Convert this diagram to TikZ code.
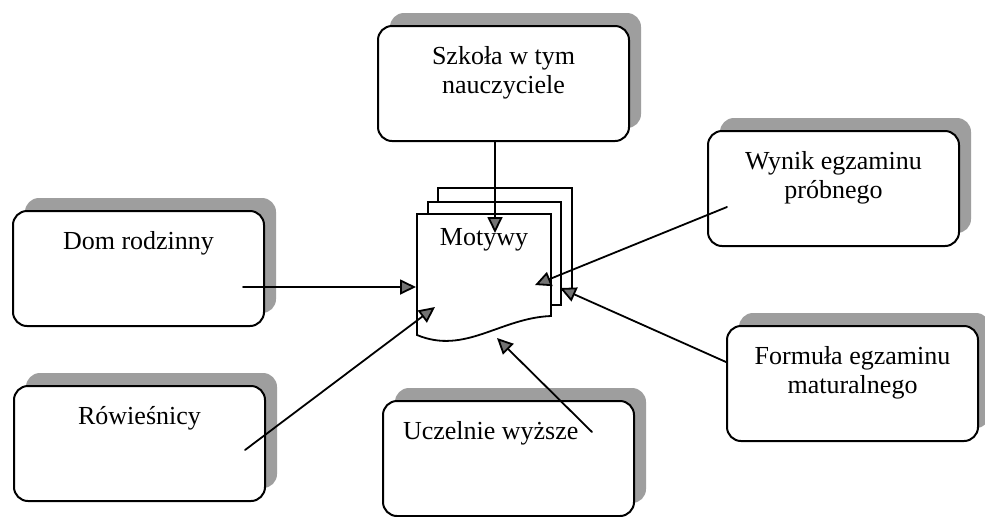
\documentclass[tikz,border=0pt]{standalone}
\usepackage{fontspec}
\setmainfont{Liberation Serif}
\usepackage{tikz}
\usetikzlibrary{arrows.meta, shadows}
\newcommand{\BoxText}[2][\centering]{\parbox[c][57.5pt][t]{125.5pt}{\vspace*{9.3pt}#1\strut #2}}

\begin{document}
\begin{tikzpicture}[x=0.5pt, y=-0.5pt, line cap=round,
	cause/.style={draw, line width=1pt, rounded corners=7pt, fill=white, inner sep=0pt, anchor=north west,
		font=\fontsize{13}{14.5}\selectfont,
		general shadow={fill=black!38, draw=none, shadow xshift=6pt, shadow yshift=6.5pt}},
	page/.style={draw, line width=0.9pt, fill=white},
	link/.style={line width=0.9pt, -{Triangle[length=8pt, width=7.5pt, fill=black!55]}}]

	\fill[white] (0,0) rectangle (985,516);
	\useasboundingbox (0,0) rectangle (985,516);

	% boxes round the motives
	\node[cause] (szkola) at (377,25) {\BoxText{Szkoła w tym\\nauczyciele}};
	\node[cause] (dom) at (12,210) {\BoxText{Dom rodzinny}};
	\node[cause] (wynik) at (707,130) {\BoxText{Wynik egzaminu\\próbnego}};
	\node[cause] (formula) at (726,325) {\BoxText{Formuła egzaminu\\maturalnego}};
	\node[cause] (rowiesnicy) at (13,385) {\BoxText{Rówieśnicy}};
	\node[cause] (uczelnie) at (382,400) {\BoxText[\raggedright\hspace*{10pt}]{Uczelnie wyższe}};

	% stack of pages
	\draw[page] (438,188) rectangle (572,290);
	\draw[page] (428,202) rectangle (561,305);
	\draw[page] (417,214) -- (551,214) -- (551,316) .. controls (500,318) and (465,355) .. (417,335) -- cycle;
	\node[font=\fontsize{13}{14.5}\selectfont, anchor=base] (motywy) at (484,245) {Motywy};

	\coordinate (m-top) at (495,233);
	\coordinate (m-left) at (416,287);
	\coordinate (m-low) at (435,307);
	\coordinate (m-right) at (535,285);
	\coordinate (m-back) at (560,288);
	\coordinate (m-bottom) at (497,338);

	\coordinate (dom-out) at (243,287);
	\coordinate (rowi-out) at (245,450);
	\coordinate (wynik-out) at (727,207);
	\coordinate (form-out) at (726,362);
	\coordinate (ucz-out) at (592,432);

	\draw[link] (szkola.south -| m-top) -- (m-top);
	\draw[link] (dom-out) -- (m-left);
	\draw[link] (rowi-out) -- (m-low);
	\draw[link] (wynik-out) -- (m-right);
	\draw[link] (form-out) -- (m-back);
	\draw[link] (ucz-out) -- (m-bottom);

\end{tikzpicture}
\end{document}
